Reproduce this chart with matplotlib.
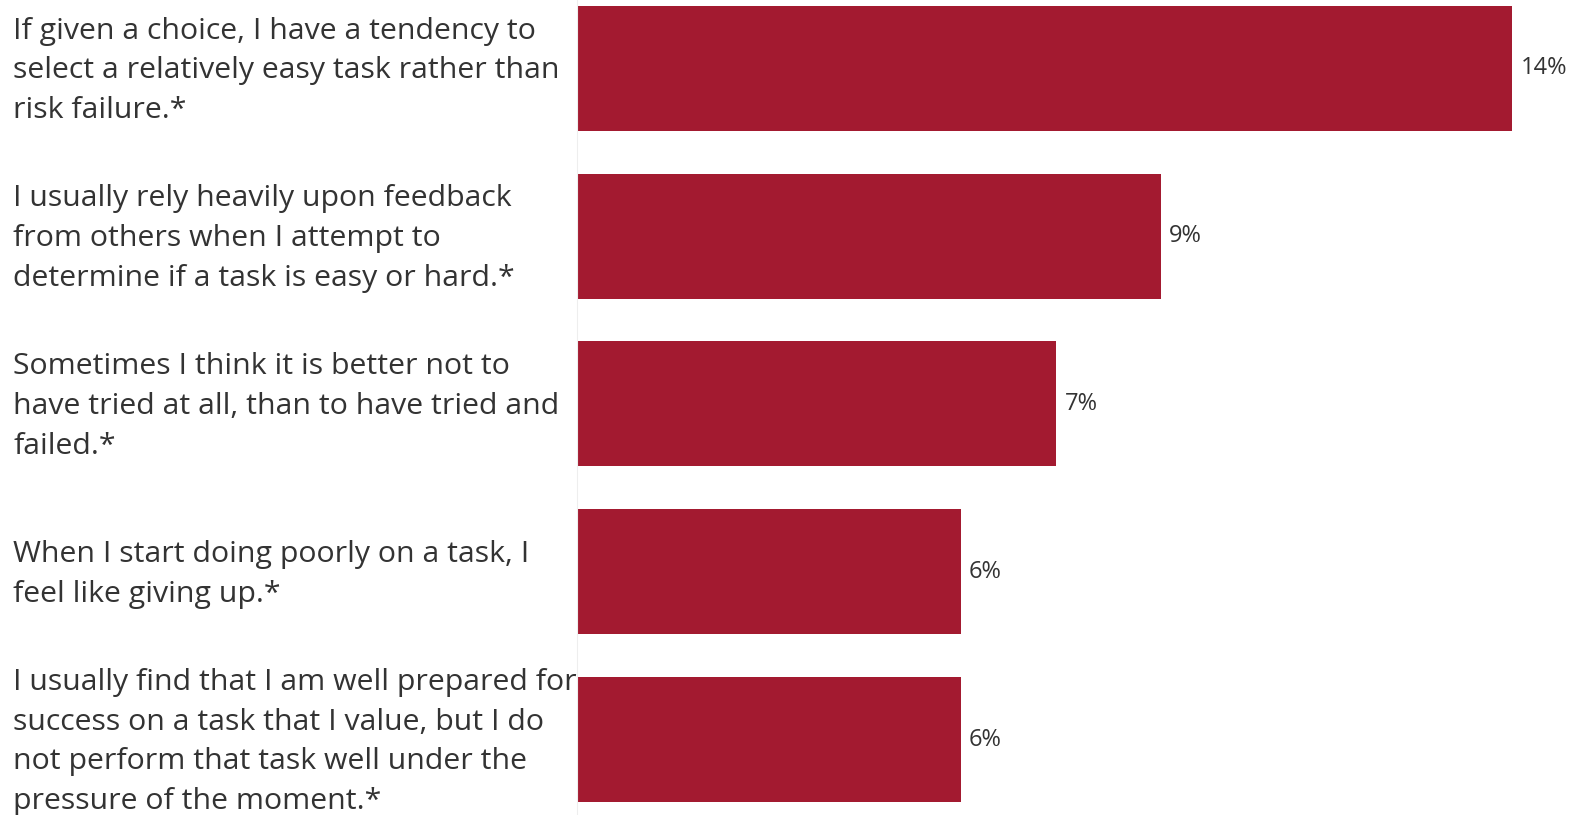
import matplotlib.pyplot as plt
from matplotlib import transforms

# Survey statements and share of respondents (percent)
statements = [
    "If given a choice, I have a tendency to\nselect a relatively easy task rather than\nrisk failure.*",
    "I usually rely heavily upon feedback\nfrom others when I attempt to\ndetermine if a task is easy or hard.*",
    "Sometimes I think it is better not to\nhave tried at all, than to have tried and\nfailed.*",
    "When I start doing poorly on a task, I\nfeel like giving up.*",
    "I usually find that I am well prepared for\nsuccess on a task that I value, but I do\nnot perform that task well under the\npressure of the moment.*",
]
shares = [14.07, 8.78, 7.21, 5.77, 5.77]

BAR_COLOR = "#A31A30"
TEXT_COLOR = "#333333"

fig = plt.figure(figsize=(15.74, 8.15), dpi=100)
ax = fig.add_axes([577 / 1574, 0, 997 / 1574, 1])

ypos = list(range(len(shares)))
ax.barh(ypos, shares, height=0.745, color=BAR_COLOR)

ax.set_xlim(0, 15.0)
ax.set_ylim(4.45, -0.408)

for y, v in zip(ypos, shares):
    ax.annotate(f"{v:.0f}%", (v, y), xytext=(6, 0), textcoords="offset points",
                va="center", ha="left", fontsize=17, color=TEXT_COLOR,
                family="Open Sans")

# statement labels sit in the left margin, centred on each bar
trans = transforms.blended_transform_factory(fig.transFigure, ax.transData)
for y, s in zip(ypos, statements):
    ax.text(13 / 1574, y + 0.015, s, transform=trans, va="center", ha="left",
            fontsize=21.8, color=TEXT_COLOR, family="Open Sans", linespacing=1.49)

for side in ["top", "right", "bottom"]:
    ax.spines[side].set_visible(False)
ax.spines["left"].set_color("#eeeeee")
ax.set_xticks([])
ax.set_yticks([])

fig.savefig("out.png", dpi=100)
